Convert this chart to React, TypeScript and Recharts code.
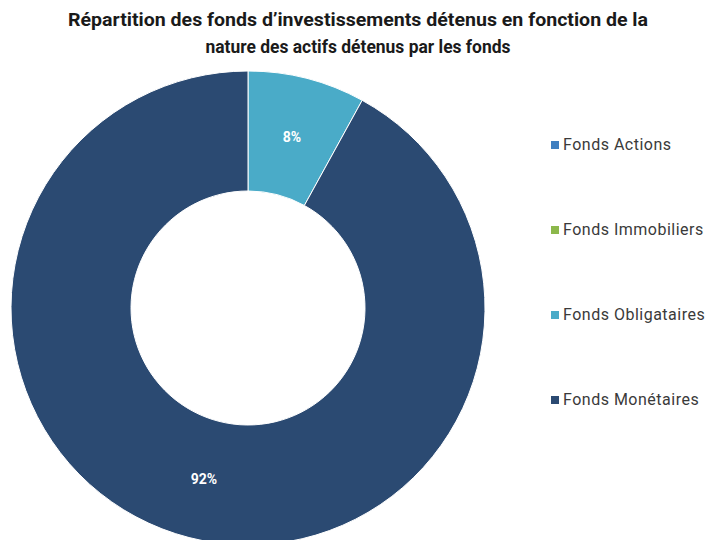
import React from "react";
import { PieChart, Pie, Cell, Legend } from "recharts";

const categories = ["Fonds Actions", "Fonds Immobiliers", "Fonds Obligataires", "Fonds Monétaires"];
const values = [0, 0, 8, 92];
const colors = ["#3f7fc0", "#8cb84b", "#4aabc8", "#2b4a72"];
const titleLines = [
  "Répartition des fonds d’investissements détenus en fonction de la",
  "nature des actifs détenus par les fonds",
];

const data = categories.map((name, i) => ({ name, value: values[i], color: colors[i] }));
const pieData = data.filter((d) => d.value > 0);

const FONT = "Roboto, 'Noto Sans', sans-serif";

const renderLabel = (props: any) => {
  const { cx, cy, midAngle, innerRadius, outerRadius, value } = props;
  const RAD = Math.PI / 180;
  const r = (innerRadius + outerRadius) / 2;
  const x = cx + r * Math.cos(-midAngle * RAD);
  const y = cy + r * Math.sin(-midAngle * RAD);
  return (
    <text x={x} y={y} fill="#ffffff" fontFamily={FONT} fontWeight={700} fontSize={14}
      textAnchor="middle" dominantBaseline="central">
      {`${value}%`}
    </text>
  );
};

const LegendContent = () => (
  <div style={{ fontFamily: FONT, fontSize: 16, letterSpacing: 0.5, color: "#3a3a3a" }}>
    {data.map((d) => (
      <div key={d.name} style={{ display: "flex", alignItems: "center", height: 85, whiteSpace: "nowrap" }}>
        <span style={{ display: "inline-block", width: 8, height: 8, background: d.color, marginRight: 4 }} />
        <span>{d.name}</span>
      </div>
    ))}
  </div>
);

export default function App() {
  return (
    <div style={{ position: "absolute", left: 0, top: 0, width: 712, height: 540, background: "#ffffff", overflow: "hidden" }}>
      <svg width={712} height={60} style={{ position: "absolute", left: 0, top: 0 }}>
        <text x={358} y={26} textAnchor="middle" fontFamily={FONT} fontWeight={700} fontSize={18}
          fill="#1a1a1a" textLength={580} lengthAdjust="spacingAndGlyphs">{titleLines[0]}</text>
        <text x={358} y={53} textAnchor="middle" fontFamily={FONT} fontWeight={700} fontSize={18}
          fill="#1a1a1a" textLength={305} lengthAdjust="spacingAndGlyphs">{titleLines[1]}</text>
      </svg>
      <PieChart width={712} height={540} margin={{ top: 0, right: 0, bottom: 0, left: 0 }}
        style={{ position: "absolute", left: 0, top: 0 }}>
        <Pie data={pieData} dataKey="value" nameKey="name" cx={248} cy={308}
          innerRadius={117} outerRadius={237} startAngle={90} endAngle={-270}
          stroke="#ffffff" strokeWidth={1} label={renderLabel} labelLine={false}
          isAnimationActive={false}>
          {pieData.map((d) => (
            <Cell key={d.name} fill={d.color} />
          ))}
        </Pie>
        <Legend layout="vertical" align="right" verticalAlign="top" content={LegendContent}
          wrapperStyle={{ position: "absolute", left: 551, top: 102, width: 161 }} />
      </PieChart>
    </div>
  );
}
